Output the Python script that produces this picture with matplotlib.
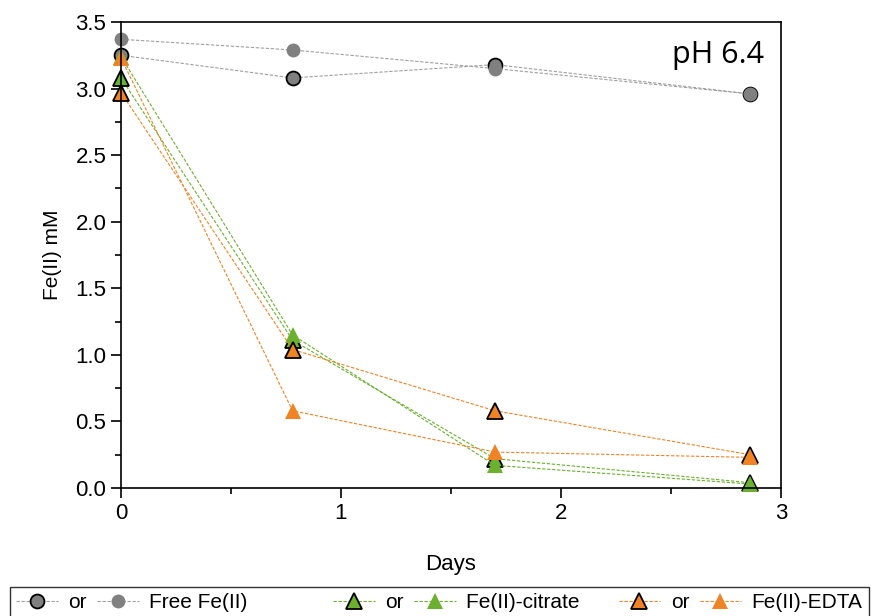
import matplotlib
matplotlib.use("Agg")
import matplotlib.pyplot as plt
from matplotlib.ticker import MultipleLocator, FormatStrFormatter

plt.rcParams['font.family'] = ['Liberation Sans', 'DejaVu Sans']

days = [0, 0.78, 1.7, 2.86]

free_a = [3.25, 3.08, 3.18, 2.96]   # black edge
free_b = [3.37, 3.29, 3.15, 2.96]   # no edge
citrate_a = [3.08, 1.11, 0.22, 0.04]
citrate_b = [3.24, 1.15, 0.17, 0.03]
edta_a = [2.97, 1.04, 0.58, 0.25]
edta_b = [3.23, 0.58, 0.27, 0.23]

legend_labels = ['or', 'Free Fe(II)' + ' ' * 13, 'or', 'Fe(II)-citrate' + ' ' * 5, 'or', 'Fe(II)-EDTA']

grey = '#808080'
green = '#6bb02f'
orange = '#f08323'

fig = plt.figure(figsize=(8.91, 6.16), dpi=100)
ax = fig.add_axes([0.1358, 0.2078, 0.7407, 0.7565])

ls = dict(linestyle=(0, (3, 1.5)), linewidth=0.8)
h1, = ax.plot(days, free_a, color='#a0a0a0', marker='o', markersize=10,
              markerfacecolor=grey, markeredgecolor='black', markeredgewidth=1.3, **ls)
h2, = ax.plot(days, free_b, color='#a0a0a0', marker='o', markersize=10,
              markerfacecolor=grey, markeredgecolor=grey, markeredgewidth=0, **ls)
h3, = ax.plot(days, citrate_a, color=green, marker='^', markersize=11,
              markerfacecolor=green, markeredgecolor='black', markeredgewidth=1.3, **ls)
h4, = ax.plot(days, citrate_b, color=green, marker='^', markersize=12,
              markerfacecolor=green, markeredgewidth=0, **ls)
h5, = ax.plot(days, edta_a, color=orange, marker='^', markersize=11,
              markerfacecolor=orange, markeredgecolor='black', markeredgewidth=1.3, **ls)
h6, = ax.plot(days, edta_b, color=orange, marker='^', markersize=12,
              markerfacecolor=orange, markeredgewidth=0, **ls)
for h in (h1, h2, h3, h4, h5, h6):
    h.set_clip_on(False)

ax.set_xlim(0, 3)
ax.set_ylim(0, 3.5)
ax.xaxis.set_major_locator(MultipleLocator(1))
ax.xaxis.set_minor_locator(MultipleLocator(0.5))
ax.yaxis.set_major_locator(MultipleLocator(0.5))
ax.yaxis.set_minor_locator(MultipleLocator(0.25))
ax.yaxis.set_major_formatter(FormatStrFormatter('%.1f'))
ax.tick_params(which='major', direction='out', length=7, width=1.2, labelsize=16, top=False, right=False)
ax.tick_params(which='minor', direction='out', length=4, width=1.2, top=False, right=False)
for s in ax.spines.values():
    s.set_linewidth(1.2)

ax.set_xlabel('Days', fontsize=16, labelpad=22)
ax.set_ylabel('Fe(II) mM', fontsize=15, labelpad=10)
ax.text(0.975, 0.929, 'pH 6.4', transform=ax.transAxes, ha='right', va='center',
        fontsize=22, family=['Open Sans', 'DejaVu Sans'])

leg = fig.legend([h1, h2, h3, h4, h5, h6], legend_labels,
                 ncol=6, loc='upper left', bbox_to_anchor=(10 / 891, 1 - 587 / 616),
                 frameon=True, fancybox=False, handlelength=2.0,
                 handletextpad=0.5, columnspacing=0.5, borderpad=0.3, borderaxespad=0,
                 prop={'size': 15})
leg.get_frame().set_edgecolor('black')
leg.get_frame().set_linewidth(1.0)

fig.savefig('out.png', dpi=100)
